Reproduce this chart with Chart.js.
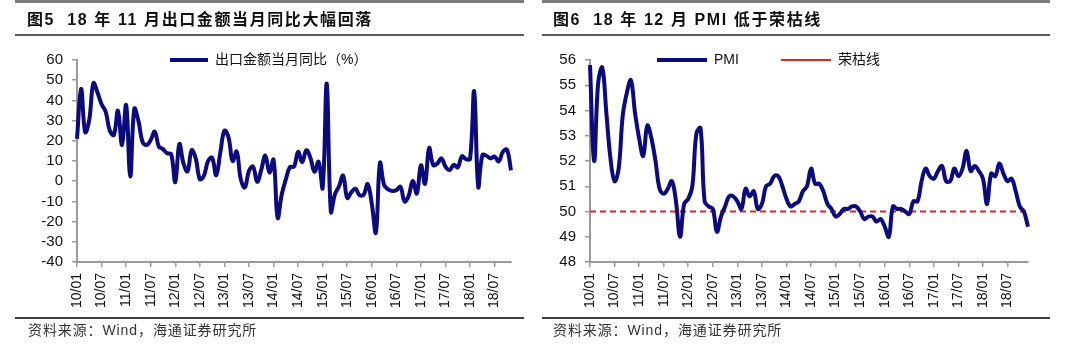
<!DOCTYPE html>
<html>
<head>
<meta charset="utf-8">
<title>出口与PMI</title>
<script src="https://cdn.jsdelivr.net/npm/chart.js@4.4.1/dist/chart.umd.min.js"></script>
<style>
  body { margin: 0; background: #fff; }
  #page { position: relative; width: 1080px; height: 344px; overflow: hidden; background: #fff;
          font-family: "Liberation Sans", "Noto Sans CJK SC", sans-serif; }
  canvas { position: absolute; top: 0; }
  .rule { position: absolute; }
  .band { top: 0; height: 3px; background: #7a7a7a; }
  .under { top: 34px; height: 2px; background: #5c5c5c; }
  .foot { top: 317px; height: 2px; background: #404040; }
  .title { position: absolute; top: 10px; line-height: 20px; font-size: 16px; font-weight: bold;
           letter-spacing: 1.6px; color: #111; white-space: pre; }
  .source { position: absolute; top: 322px; line-height: 16px; font-size: 14px;
            letter-spacing: 0.9px; color: #333; white-space: pre; }
</style>
</head>
<body>
<div id="page">
  <canvas id="exportChart" width="540" height="344" style="left:0"></canvas>
  <canvas id="pmiChart" width="540" height="344" style="left:540px"></canvas>

  <div class="rule band" style="left:15px;width:509px"></div>
  <div class="rule band" style="left:542px;width:508px"></div>
  <div class="rule under" style="left:15px;width:509px"></div>
  <div class="rule under" style="left:542px;width:508px"></div>
  <div class="rule foot" style="left:15px;width:509px"></div>
  <div class="rule foot" style="left:542px;width:508px"></div>

  <div class="title" style="left:27px">图5  18 年 11 月出口金额当月同比大幅回落</div>
  <div class="title" style="left:553px">图6  18 年 12 月 PMI 低于荣枯线</div>
  <div class="source" style="left:28px">资料来源：Wind，海通证券研究所</div>
  <div class="source" style="left:553px">资料来源：Wind，海通证券研究所</div>
</div>

<script>
const FONT = '"Liberation Sans", "Noto Sans CJK SC", sans-serif';
const NAVY = '#0b0b7d';
const RED = '#cf2a2a';
const AXIS_GREY = '#9a9a9a';

// category axis: yy/mm from 2010-01
const years = ['10', '11', '12', '13', '14', '15', '16', '17', '18'];
const monthCodes = ['01', '02', '03', '04', '05', '06', '07', '08', '09', '10', '11', '12'];
// only January and July get a tick + label
const tickMonths = ['01', '07'];

// y tick values
const exportTicks = [-40, -30, -20, -10, 0, 10, 20, 30, 40, 50, 60];
const pmiTicks = [48, 49, 50, 51, 52, 53, 54, 55, 56];

// export value, monthly yoy %, 2010-01 .. 2018-11
const exportYoY = [
  21.0, 45.7, 24.3, 30.5, 48.5, 43.9, 38.1, 34.4, 25.1, 22.9, 34.9, 17.9,
  37.7, 2.4, 35.8, 29.9, 19.4, 17.9, 20.4, 24.5, 17.1, 15.9, 13.8, 13.4,
  -0.5, 18.4, 8.9, 4.9, 15.3, 11.3, 1.0, 2.7, 9.9, 11.6, 2.9, 14.1,
  25.0, 21.8, 10.0, 14.7, 1.0, -3.1, 5.1, 7.2, -0.3, 5.6, 12.7, 4.3,
  10.6, -18.1, -6.6, 0.9, 7.0, 7.2, 14.5, 9.4, 15.3, 11.6, 4.7, 9.7,
  -3.3, 48.3, -15.0, -6.4, -2.5, 2.8, -8.3, -5.5, -3.7, -6.9, -6.8, -1.4,
  -11.2, -25.4, 9.0, -1.8, -4.1, -4.8, -4.4, -2.8, -10.0, -7.3, 0.1, -6.1,
  7.9, -1.3, 16.4, 8.0, 8.7, 11.3, 7.2, 5.5, 8.1, 6.9, 12.3, 10.9,
  11.1, 44.5, -2.7, 12.9, 12.6, 11.3, 12.2, 9.8, 14.5, 15.6, 5.4
];

// manufacturing PMI, 2010-01 .. 2018-12
const pmi = [
  55.8, 52.0, 55.1, 55.7, 53.9, 52.1, 51.2, 51.7, 53.8, 54.7, 55.2, 53.9,
  52.9, 52.2, 53.4, 52.9, 52.0, 50.9, 50.7, 50.9, 51.2, 50.4, 49.0, 50.3,
  50.5, 51.0, 53.1, 53.3, 50.4, 50.2, 50.1, 49.2, 49.8, 50.2, 50.6, 50.6,
  50.4, 50.1, 50.9, 50.6, 50.8, 50.1, 50.3, 51.0, 51.1, 51.4, 51.4, 51.0,
  50.5, 50.2, 50.3, 50.4, 50.8, 51.0, 51.7, 51.1, 51.1, 50.8, 50.3, 50.1,
  49.8, 49.9, 50.1, 50.1, 50.2, 50.2, 50.0, 49.7, 49.8, 49.8, 49.6, 49.7,
  49.4, 49.0, 50.2, 50.1, 50.1, 50.0, 49.9, 50.4, 50.4, 51.2, 51.7, 51.4,
  51.3, 51.6, 51.8, 51.2, 51.2, 51.7, 51.4, 51.7, 52.4, 51.6, 51.8, 51.6,
  51.3, 50.3, 51.5, 51.4, 51.9, 51.5, 51.2, 51.3, 50.8, 50.2, 50.0, 49.4
];

// boom-bust threshold, drawn from first to last month
const boomBustLine = [50, 50];

const monthLabels = [];
years.forEach(y => monthCodes.forEach(m => monthLabels.push(y + '/' + m)));
const exportMonths = monthLabels.slice(0, exportYoY.length);
const pmiMonths = monthLabels.slice(0, pmi.length);

Chart.defaults.font.family = FONT;
Chart.defaults.color = '#111';

// drop every tick that is not Jan / Jul
function keepHalfYearTicks(scale) {
  const labels = scale.getLabels();
  scale.ticks = scale.ticks.filter(t => tickMonths.includes(labels[t.value].slice(3)));
}

// legend sits on the top edge of the plot, so move it after layout
const legendPlacer = {
  id: 'legendPlacer',
  afterLayout(chart, args, opts) {
    const lg = chart.legend;
    const pad = lg.options.labels.padding;
    lg.left = opts.x - pad;
    lg.right = chart.width;
    lg.top = opts.y - pad - opts.fontSize / 2;
    lg.bottom = lg.top + opts.fontSize + pad * 2;
    lg.width = lg.right - lg.left;
    lg.height = lg.bottom - lg.top;
  }
};

function buildScales(yTicks, axisWidth) {
  return {
    x: {
      type: 'category',
      offset: false,
      afterBuildTicks: keepHalfYearTicks,
      afterFit(scale) { scale.height = 50; },
      grid: { drawOnChartArea: false, color: AXIS_GREY, lineWidth: 1.5, tickLength: 5 },
      border: { color: AXIS_GREY, width: 2 },
      ticks: {
        autoSkip: false, minRotation: 90, maxRotation: 90, padding: 6,
        color: '#111', font: { size: 14, family: FONT }
      }
    },
    y: {
      min: yTicks[0],
      max: yTicks[yTicks.length - 1],
      afterBuildTicks(scale) { scale.ticks = yTicks.map(v => ({ value: v })); },
      afterFit(scale) { scale.width = axisWidth; },
      grid: { drawOnChartArea: false, color: AXIS_GREY, lineWidth: 1.5, tickLength: 5 },
      border: { color: AXIS_GREY, width: 2 },
      ticks: { autoSkip: false, padding: 9, color: '#111', font: { size: 15, family: FONT } }
    }
  };
}

function legendOptions(boxWidth, gap) {
  return {
    position: 'top',
    align: 'start',
    maxHeight: 1,
    labels: {
      usePointStyle: true,
      pointStyle: 'line',
      pointStyleWidth: boxWidth,
      padding: gap,
      color: '#111',
      font: { size: 14, family: FONT }
    }
  };
}

new Chart(document.getElementById('exportChart'), {
  type: 'line',
  data: {
    labels: exportMonths,
    datasets: [{
      label: '出口金额当月同比（%）',
      data: exportYoY,
      borderColor: NAVY,
      backgroundColor: NAVY,
      borderWidth: 4,
      borderJoinStyle: 'round',
      pointRadius: 0,
      tension: 0.4,
      fill: false
    }]
  },
  options: {
    responsive: false,
    animation: false,
    events: [],
    devicePixelRatio: 1,
    layout: { padding: { left: 0, top: 59, right: 29, bottom: 32 } },
    scales: buildScales(exportTicks, 77),
    plugins: {
      legend: legendOptions(38, 10),
      legendPlacer: { x: 170, y: 60, fontSize: 14 },
      tooltip: { enabled: false }
    }
  },
  plugins: [legendPlacer]
});

new Chart(document.getElementById('pmiChart'), {
  type: 'line',
  data: {
    labels: pmiMonths,
    datasets: [{
      label: 'PMI',
      data: pmi,
      borderColor: NAVY,
      backgroundColor: NAVY,
      borderWidth: 4,
      borderJoinStyle: 'round',
      pointRadius: 0,
      tension: 0.4,
      fill: false
    }, {
      label: '荣枯线',
      data: [
        { x: pmiMonths[0], y: boomBustLine[0] },
        { x: pmiMonths[pmiMonths.length - 1], y: boomBustLine[1] }
      ],
      borderColor: RED,
      backgroundColor: RED,
      borderWidth: 2,
      borderDash: [6, 4],
      pointRadius: 0,
      tension: 0,
      fill: false
    }]
  },
  options: {
    responsive: false,
    animation: false,
    events: [],
    devicePixelRatio: 1,
    layout: { padding: { left: 0, top: 59, right: 52, bottom: 32 } },
    scales: buildScales(pmiTicks, 50),
    plugins: {
      legend: legendOptions(50, 42),
      legendPlacer: { x: 117, y: 60, fontSize: 14 },
      tooltip: { enabled: false }
    }
  },
  plugins: [legendPlacer]
});
</script>
</body>
</html>
